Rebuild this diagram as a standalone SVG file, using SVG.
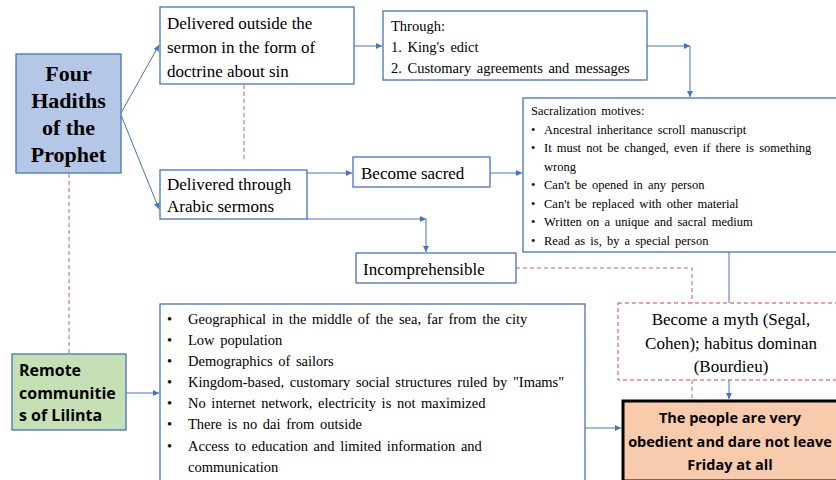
<svg xmlns="http://www.w3.org/2000/svg" width="836" height="480" viewBox="0 0 836 480">
<defs>
<marker id="arr" markerWidth="8" markerHeight="8" refX="6" refY="3" orient="auto" markerUnits="userSpaceOnUse">
<path d="M0,0 L6,3 L0,6 Z" fill="#4472C4"/>
</marker>
<style>
.box{fill:#fff;stroke:#4472C4;stroke-width:1.3}
.ser{font-family:"Liberation Serif",Tinos,"Times New Roman",Times,"Noto Serif","DejaVu Serif",FreeSerif,serif;fill:#000}
.sans{font-family:"Open Sans","Liberation Sans",sans-serif;font-weight:bold;fill:#000}
.con{fill:none;stroke:#4472C4;stroke-width:1}
.dash{fill:none;stroke:#D9585A;stroke-width:1;stroke-dasharray:4,3}
</style>
</defs>
<rect width="836" height="480" fill="#fff"/>

<g id="connectors">
<line class="con" x1="121" y1="113" x2="159" y2="45" marker-end="url(#arr)"/>
<line class="con" x1="121" y1="115" x2="159" y2="209" marker-end="url(#arr)"/>
<line class="con" x1="354" y1="46" x2="382" y2="46" marker-end="url(#arr)"/>
<polyline class="con" points="647,46 690,46" marker-end="url(#arr)"/>
<polyline class="con" points="690,46 690,97" marker-end="url(#arr)"/>
<line class="con" x1="307" y1="173" x2="352" y2="173" marker-end="url(#arr)"/>
<line class="con" x1="490" y1="173" x2="522" y2="173" marker-end="url(#arr)"/>
<polyline class="con" points="307,219 426,219" marker-end="url(#arr)"/>
<polyline class="con" points="426,219 426,252" marker-end="url(#arr)"/>
<line class="con" x1="729" y1="252" x2="729" y2="303"/>
<line class="con" x1="729" y1="380" x2="729" y2="399" marker-end="url(#arr)"/>
<line class="con" x1="126" y1="393" x2="159" y2="393" marker-end="url(#arr)"/>
<line class="con" x1="585" y1="428" x2="621" y2="428" marker-end="url(#arr)"/>
<line class="dash" x1="244" y1="85" x2="244" y2="160"/>
<line class="dash" x1="69" y1="174" x2="69" y2="354"/>
<polyline class="dash" points="516,268 692,268 692,303"/>
<line class="dash" x1="692" y1="380" x2="692" y2="400"/>
</g>

<g id="four-hadiths">
<rect x="16" y="54" width="105" height="119" fill="#B4C7E7" stroke="#4472C4" stroke-width="1.3"/>
<text class="ser" font-size="22" font-weight="bold" text-anchor="middle" x="68.5"><tspan x="68.5" y="81">Four</tspan><tspan x="68.5" y="108">Hadiths</tspan><tspan x="68.5" y="135">of the</tspan><tspan x="68.5" y="162">Prophet</tspan></text>
</g>

<g id="delivered-outside">
<rect class="box" x="160" y="7" width="194" height="77"/>
<text class="ser" font-size="17"><tspan x="167" y="29">Delivered outside the</tspan><tspan x="167" y="53">sermon in the form of</tspan><tspan x="167" y="77">doctrine about sin</tspan></text>
</g>

<g id="through">
<rect class="box" x="383" y="11" width="264" height="69"/>
<text class="ser" font-size="14.5" word-spacing="2"><tspan x="391" y="31">Through:</tspan><tspan x="391" y="52">1. King's edict</tspan><tspan x="391" y="73">2. Customary agreements and messages</tspan></text>
</g>

<g id="sacralization">
<rect class="box" x="523" y="98" width="320" height="154"/>
<text class="ser" font-size="12.5" word-spacing="2"><tspan x="531" y="115">Sacralization motives:</tspan></text>
<text class="ser" font-size="12.5" word-spacing="2">
<tspan x="531" y="134">•</tspan><tspan x="544" y="134">Ancestral inheritance scroll manuscript</tspan>
<tspan x="531" y="152">•</tspan><tspan x="544" y="152">It must not be changed, even if there is something</tspan>
<tspan x="544" y="171">wrong</tspan>
<tspan x="531" y="189">•</tspan><tspan x="544" y="189">Can't be opened in any person</tspan>
<tspan x="531" y="208">•</tspan><tspan x="544" y="208">Can't be replaced with other material</tspan>
<tspan x="531" y="226">•</tspan><tspan x="544" y="226">Written on a unique and sacral medium</tspan>
<tspan x="531" y="245">•</tspan><tspan x="544" y="245">Read as is, by a special person</tspan>
</text>
</g>

<g id="delivered-arabic">
<rect class="box" x="160" y="170" width="147" height="49"/>
<text class="ser" font-size="17"><tspan x="167" y="190">Delivered through</tspan><tspan x="167" y="212">Arabic sermons</tspan></text>
</g>

<g id="become-sacred">
<rect class="box" x="353" y="157" width="137" height="30"/>
<text class="ser" font-size="17" x="361" y="179">Become sacred</text>
</g>

<g id="incomprehensible">
<rect class="box" x="356" y="253" width="160" height="30"/>
<text class="ser" font-size="17" x="363" y="275">Incomprehensible</text>
</g>

<g id="myth">
<rect x="618" y="303" width="225" height="77" fill="#fff" stroke="#E03C3C" stroke-width="1" stroke-dasharray="4,3"/>
<text class="ser" font-size="17" text-anchor="middle"><tspan x="731" y="325">Become a myth (Segal,</tspan><tspan x="731" y="349">Cohen); habitus dominan</tspan><tspan x="731" y="372">(Bourdieu)</tspan></text>
</g>

<g id="remote">
<rect x="12" y="354" width="114" height="76" fill="#C5E0B4" stroke="#4472C4" stroke-width="1.3"/>
<text class="sans" font-size="16"><tspan x="19" y="376">Remote</tspan><tspan x="19" y="399">communitie</tspan><tspan x="19" y="421">s of Lilinta</tspan></text>
</g>

<g id="factors">
<rect class="box" x="160" y="304" width="425" height="185"/>
<text class="ser" font-size="14.5" word-spacing="2">
<tspan x="167" y="324">•</tspan><tspan x="188" y="324">Geographical in the middle of the sea, far from the city</tspan>
<tspan x="167" y="345">•</tspan><tspan x="188" y="345">Low population</tspan>
<tspan x="167" y="366">•</tspan><tspan x="188" y="366">Demographics of sailors</tspan>
<tspan x="167" y="387">•</tspan><tspan x="188" y="387">Kingdom-based, customary social structures ruled by "Imams"</tspan>
<tspan x="167" y="408">•</tspan><tspan x="188" y="408">No internet network, electricity is not maximized</tspan>
<tspan x="167" y="429">•</tspan><tspan x="188" y="429">There is no dai from outside</tspan>
<tspan x="167" y="451">•</tspan><tspan x="188" y="451">Access to education and limited information and</tspan>
<tspan x="188" y="472">communication</tspan>
</text>
</g>

<g id="people">
<rect x="623" y="401" width="215" height="80" fill="#F8CBAD" stroke="#000" stroke-width="3"/>
<text class="sans" font-size="14.5" text-anchor="middle"><tspan x="730" y="423">The people are very</tspan><tspan x="730" y="447">obedient and dare not leave</tspan><tspan x="730" y="470">Friday at all</tspan></text>
</g>
</svg>
